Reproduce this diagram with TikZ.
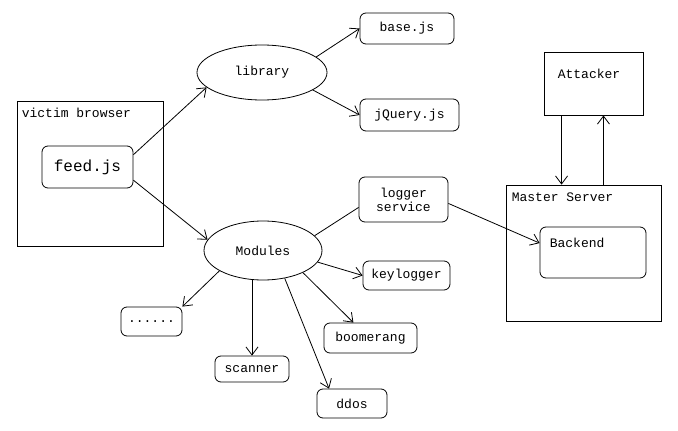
\documentclass[tikz,border=0pt]{standalone}
\usepackage{fontspec}
\setmonofont{Liberation Mono}
\usetikzlibrary{shapes.geometric, arrows.meta, calc}
\tikzset{
    % Boxes with rounded corners
    module box/.style={
        rectangle,
        rounded corners=6pt,
        draw=black,
        line width=0.8pt,
        inner sep=0pt,
        align=center,
        font=\ttfamily\fontsize{13}{14}\selectfont
    },
    % Plain frames
    container/.style={
        rectangle,
        draw=black,
        line width=0.8pt,
        inner sep=0pt
    },
    group/.style={
        ellipse,
        draw=black,
        line width=0.8pt,
        inner sep=0pt,
        font=\ttfamily\fontsize{13}{14}\selectfont
    },
    caption text/.style={
        anchor=base west,
        inner sep=0pt,
        font=\ttfamily\fontsize{13}{14}\selectfont
    },
    arrow style/.style={
        -{Straight Barb[length=8pt,width=12pt]},
        line width=0.8pt,
        black
    },
    plain line/.style={
        line width=0.8pt,
        black
    }
}

\begin{document}
\begin{tikzpicture}[x=1pt, y=-1pt]
        \useasboundingbox (0,0) rectangle (678,431);

        % Victim browser
        \node[container, minimum width=146pt, minimum height=145pt] (browser) at (90,173.5) {};
        \node[caption text] (browser title) at ([xshift=5pt,yshift=-17pt]browser.north west) {victim browser};
        \node[module box, minimum width=91pt, minimum height=42pt, font=\ttfamily\fontsize{16}{18}\selectfont] (feed) at (87.5,167) {feed.js};

        % Library
        \node[group, minimum width=130pt, minimum height=55pt] (lib) at (262,72.5) {library};
        \node[module box, minimum width=94pt, minimum height=31pt] (base) at (407,28.5) {base.js};
        \node[module box, minimum width=99pt, minimum height=32pt] (jquery) at (409.5,115) {jQuery.js};

        % Modules
        \node[group, minimum width=118pt, minimum height=59pt] (mods) at (263,250.5) {Modules};
        \node[module box, minimum width=89pt, minimum height=45pt] (logger) at (403.5,199.5) {logger\\service};
        \node[module box, minimum width=87pt, minimum height=29pt] (keylogger) at (406.5,275.5) {keylogger};
        \node[module box, minimum width=61pt, minimum height=29pt] (dots) at (151.5,321.5) {......};
        \node[module box, minimum width=74pt, minimum height=26pt] (scanner) at (252,369) {scanner};
        \node[module box, minimum width=93pt, minimum height=30pt] (boom) at (370.5,338) {boomerang};
        \node[module box, minimum width=70pt, minimum height=29pt] (ddos) at (352,403.5) {ddos};

        % Attacker and master server
        \node[container, minimum width=99pt, minimum height=63pt] (attacker) at (593.5,83.5) {};
        \node[caption text] (attacker title) at ([xshift=14pt,yshift=-27pt]attacker.north west) {Attacker};
        \node[container, minimum width=155pt, minimum height=136pt] (master) at (583.5,253) {};
        \node[caption text] (master title) at ([xshift=6pt,yshift=-17pt]master.north west) {Master Server};
        \node[module box, minimum width=106pt, minimum height=51pt] (backend) at (593,252.5) {};
        \node[caption text] (backend title) at ([xshift=10pt,yshift=-21pt]backend.north west) {Backend};

        % Connectors
        \draw[arrow style] (feed.15) -- (lib.195);
        \draw[arrow style] (feed.-16) -- (mods.169);
        \draw[arrow style] (lib.16) -- (base.west);
        \draw[arrow style] (lib.-19) -- (jquery.west);
        \draw[plain line] (mods.16) -- (logger.190);
        \draw[arrow style] (mods.-12) -- (keylogger.west);
        \draw[arrow style] (mods.-29) -- (boom.138);
        \draw[arrow style] (mods.-52) -- (ddos.147);
        \draw[arrow style] (mods.south -| scanner.north) -- (scanner.north);
        \draw[arrow style] (mods.205) -- (dots.north east);
        \draw[arrow style] (logger.-5) -- (backend.170);

        % Attacker <-> master server
        \coordinate (down from) at ($(attacker.south west)!0.18!(attacker.south east)$);
        \coordinate (up to) at ($(attacker.south west)!0.6!(attacker.south east)$);
        \draw[arrow style] (down from) -- (down from |- master.north);
        \draw[arrow style] (up to |- master.north) -- (up to);
    \end{tikzpicture}
\end{document}
